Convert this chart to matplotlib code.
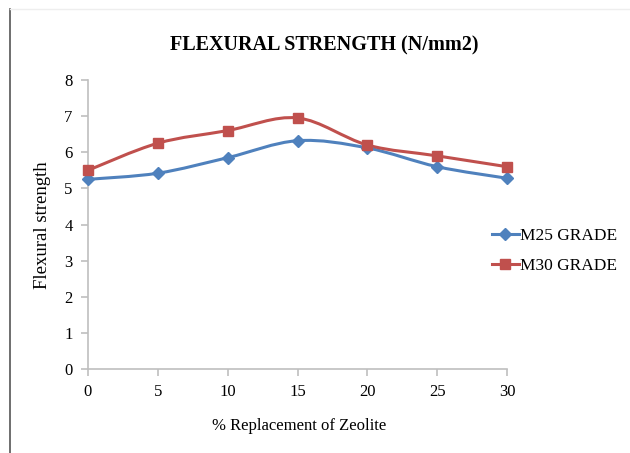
import numpy as np
import matplotlib
matplotlib.use("Agg")
import matplotlib.pyplot as plt
from matplotlib.path import Path
from matplotlib.patches import PathPatch
from matplotlib.lines import Line2D

# ====================== DATA ======================
replacement = [0, 5, 10, 15, 20, 25, 30]
m25 = [5.25, 5.42, 5.85, 6.32, 6.12, 5.60, 5.28]
m30 = [5.50, 6.25, 6.60, 6.95, 6.20, 5.90, 5.60]

# ====================== STYLES ======================
plt.rcParams['font.family'] = ['Liberation Serif', 'DejaVu Serif']
blue = '#4F81BD'
red = '#C0504D'
grey = '#BFBFBF'


def smooth_path(x, y):
    # Excel-style smoothed line: cubic Bezier through every point
    x = np.asarray(x, float)
    y = np.asarray(y, float)
    pts = np.column_stack([x, y])
    verts = [pts[0]]
    codes = [Path.MOVETO]
    n = len(pts)
    for i in range(n - 1):
        p0 = pts[i - 1] if i > 0 else pts[i]
        p1 = pts[i]
        p2 = pts[i + 1]
        p3 = pts[i + 2] if i + 2 < n else pts[i + 1]
        c1 = p1 + (p2 - p0) / 6.0
        c2 = p2 - (p3 - p1) / 6.0
        verts += [c1, c2, p2]
        codes += [Path.CURVE4] * 3
    return Path(verts, codes)


fig = plt.figure(figsize=(6.3, 4.53), dpi=100)
ax = fig.add_axes([88 / 630, 1 - 369 / 453, (507 - 88) / 630, (369 - 80) / 453])

series = [
    (m25, blue, 'D', 6.5, 'M25 GRADE'),
    (m30, red, 's', 7, 'M30 GRADE'),
]

handles = []
for vals, col, mk, ms, lab in series:
    ax.add_patch(PathPatch(smooth_path(replacement, vals), facecolor='none',
                           edgecolor=col, linewidth=2.2, zorder=3,
                           capstyle='round', joinstyle='round'))
    ax.plot(replacement, vals, linestyle='none', marker=mk, markersize=ms,
            color=col, zorder=4, clip_on=False)
    handles.append(Line2D([], [], color=col, linewidth=2.2, marker=mk,
                          markersize=ms, label=lab))

# ====================== AXES ======================
ax.set_xlim(0, 30)
ax.set_ylim(0, 8)
ax.set_xticks(replacement)
ax.set_yticks(range(0, 9))

for s in ['top', 'right']:
    ax.spines[s].set_visible(False)
for s in ['left', 'bottom']:
    ax.spines[s].set_color(grey)
    ax.spines[s].set_linewidth(1.2)

ax.tick_params(axis='both', colors=grey, length=5, width=1.2, labelsize=12,
               labelcolor='black', direction='out')
ax.tick_params(axis='x', pad=6)
ax.tick_params(axis='y', pad=6)

fig.text(324 / 630, 1 - 45 / 453, 'FLEXURAL STRENGTH (N/mm2)', ha='center',
         va='center', fontsize=14.5, fontweight='bold')
fig.text(43 / 630, 1 - 225 / 453, 'Flexural strength', ha='center',
         va='center', rotation=90, fontsize=13.5)
fig.text(299 / 630, 1 - 426 / 453, '% Replacement of Zeolite', ha='center',
         va='center', fontsize=12)

fig.legend(handles=handles, loc='center left',
           bbox_to_anchor=(485 / 630, 1 - 251 / 453), frameon=False,
           fontsize=12.5, handlelength=1.55, handletextpad=0.08,
           labelspacing=0.8, borderaxespad=0)

# outer frame of the pasted chart
fig.add_artist(Line2D([9.5 / 630, 9.5 / 630], [0, 1 - 9 / 453],
                      transform=fig.transFigure, color='#555555', linewidth=1.2))
fig.add_artist(Line2D([9.5 / 630, 1], [1 - 9 / 453, 1 - 9 / 453],
                      transform=fig.transFigure, color='#EEEEEE', linewidth=1.0))

fig.savefig('out.png', dpi=100)
